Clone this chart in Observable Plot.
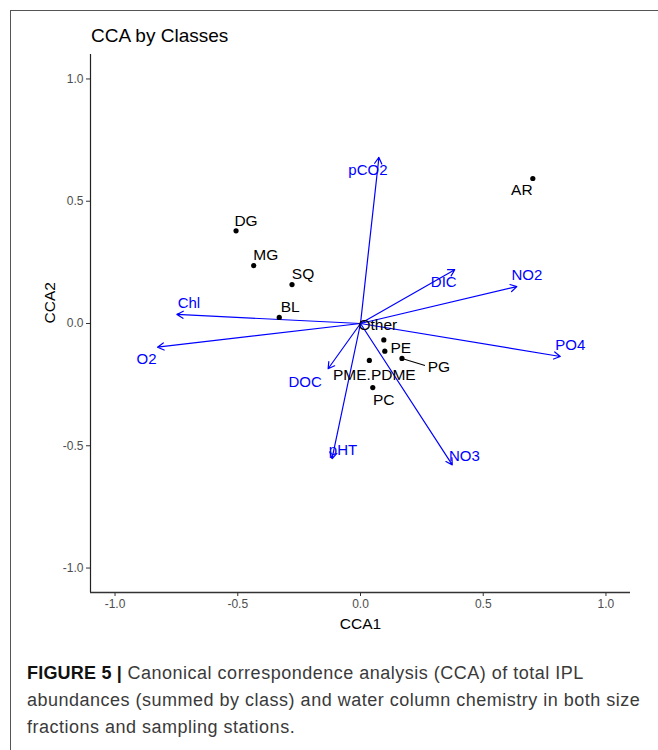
<!DOCTYPE html>
<html>
<head>
<meta charset="utf-8">
<script src="https://cdn.jsdelivr.net/npm/d3@7"></script>
<script src="https://cdn.jsdelivr.net/npm/@observablehq/plot@0.6"></script>
<style>
  html, body { margin: 0; padding: 0; background: #fff; width: 658px; height: 750px; overflow: hidden; }
  #frame { position: absolute; left: 10px; top: 10px; width: 700px; height: 800px; border: 1.5px solid #555; box-sizing: border-box; z-index: 2; pointer-events: none; }
  #title { position: absolute; left: 91px; top: 25px; font-family: "Liberation Sans", Arial, sans-serif; font-size: 19px; color: #000; white-space: nowrap; }
  #chart { position: absolute; left: 0; top: 50px; }
  #chart svg { background: none !important; }
  #caption { position: absolute; left: 27px; top: 660px; font-family: "Liberation Sans", Arial, sans-serif; font-size: 18px; letter-spacing: 0.5px; line-height: 27px; color: #3a3a3a; white-space: nowrap; }
  #caption b { color: #111; letter-spacing: 0.2px; }
</style>
</head>
<body>
<div id="frame"></div>
<div id="title">CCA by Classes</div>
<div id="chart"></div>
<div id="caption"><b>FIGURE 5 |</b> Canonical correspondence analysis (CCA) of total IPL<br>abundances (summed by class) and water column chemistry in both size<br>fractions and sampling stations.</div>
<script>
// ---- data ----
const classNames = ["AR", "DG", "MG", "SQ", "BL", "Other", "PE", "PME.PDME", "PG", "PC"];
const classCCA1 = [0.702, -0.507, -0.435, -0.279, -0.331, 0.095, 0.099, 0.036, 0.169, 0.050];
const classCCA2 = [0.593, 0.379, 0.237, 0.159, 0.025, -0.067, -0.113, -0.151, -0.143, -0.262];

const envNames = ["pCO2", "DIC", "NO2", "PO4", "Chl", "O2", "DOC", "pHT", "NO3"];
const envCCA1 = [0.075, 0.384, 0.637, 0.814, -0.748, -0.827, -0.132, -0.116, 0.374];
const envCCA2 = [0.679, 0.220, 0.151, -0.135, 0.037, -0.097, -0.185, -0.553, -0.578];

const xTicks = [-1.0, -0.5, 0.0, 0.5, 1.0];
const yTicks = [-1.0, -0.5, 0.0, 0.5, 1.0];

// ---- layout (label nudges in pixels) ----
const W = 658, H = 590, mt = 4, mr = 28, mb = 48, ml = 90;
const dom = [-1.1, 1.1];
const kx = (W - ml - mr) / (dom[1] - dom[0]);
const ky = (H - mt - mb) / (dom[1] - dom[0]);
const classNudge = {
  "AR": [-11, 12], "DG": [10, -10], "MG": [12, -11], "SQ": [11, -11], "BL": [11, -10],
  "Other": [-6, -15], "PE": [16, -3], "PME.PDME": [5, 15], "PG": [37, 9], "PC": [11, 12]
};
const envNudge = {
  "pCO2": [-11, 13], "DIC": [-11, 12], "NO2": [10, -11], "PO4": [10, -11], "Chl": [12, -11],
  "O2": [-11, 12], "DOC": [-23, 13], "pHT": [11, -9], "NO3": [12, -9]
};
const segEnd = { "PG": [23, 7] };

const classes = classNames.map((n, i) => ({
  name: n, x: classCCA1[i], y: classCCA2[i],
  lx: classCCA1[i] + classNudge[n][0] / kx,
  ly: classCCA2[i] - classNudge[n][1] / ky
}));
const env = envNames.map((n, i) => ({
  name: n, x: envCCA1[i], y: envCCA2[i],
  lx: envCCA1[i] + envNudge[n][0] / kx,
  ly: envCCA2[i] - envNudge[n][1] / ky
}));
const segs = classes.filter(d => segEnd[d.name]).map(d => ({
  x1: d.x, y1: d.y,
  x2: d.x + segEnd[d.name][0] / kx, y2: d.y - segEnd[d.name][1] / ky
}));

const fmt = d => d.toFixed(1);

const chart = Plot.plot({
  width: W, height: H,
  marginTop: mt, marginRight: mr, marginBottom: mb, marginLeft: ml,
  style: { fontFamily: "'Liberation Sans', Arial, sans-serif", background: "none", overflow: "visible" },
  x: { domain: dom, label: null },
  y: { domain: dom, label: null },
  marks: [
    Plot.axisX({ ticks: xTicks, tickFormat: fmt, tickSize: 4, tickPadding: 3, fontSize: 12, color: "#4d4d4d", stroke: "#333", label: null }),
    Plot.axisY({ ticks: yTicks, tickFormat: fmt, tickSize: 4, tickPadding: 3, fontSize: 12, color: "#4d4d4d", stroke: "#333", label: null }),
    Plot.ruleX([dom[0]], { stroke: "#222", strokeWidth: 1.2 }),
    Plot.ruleY([dom[0]], { stroke: "#333", strokeWidth: 1.3 }),
    Plot.text(["CCA1"], { frameAnchor: "bottom", dy: 36, fontSize: 15.5, fill: "#000" }),
    Plot.text(["CCA2"], { frameAnchor: "left", dx: -40, rotate: -90, fontSize: 15.5, fill: "#000" }),
    Plot.arrow(env, { x1: 0, y1: 0, x2: "x", y2: "y", stroke: "#0000ff", strokeWidth: 1.2, headLength: 9, headAngle: 60, insetEnd: 0 }),
    Plot.link(segs, { x1: "x1", y1: "y1", x2: "x2", y2: "y2", stroke: "#000", strokeWidth: 1.1 }),
    Plot.dot(classes, { x: "x", y: "y", r: 2.6, fill: "#000", stroke: "none" }),
    Plot.text(classes, { x: "lx", y: "ly", text: "name", fontSize: 15.5, fill: "#000" }),
    Plot.text(env, { x: "lx", y: "ly", text: "name", fontSize: 15, fill: "#0000ff" })
  ]
});
document.getElementById("chart").appendChild(chart);
</script>
</body>
</html>
